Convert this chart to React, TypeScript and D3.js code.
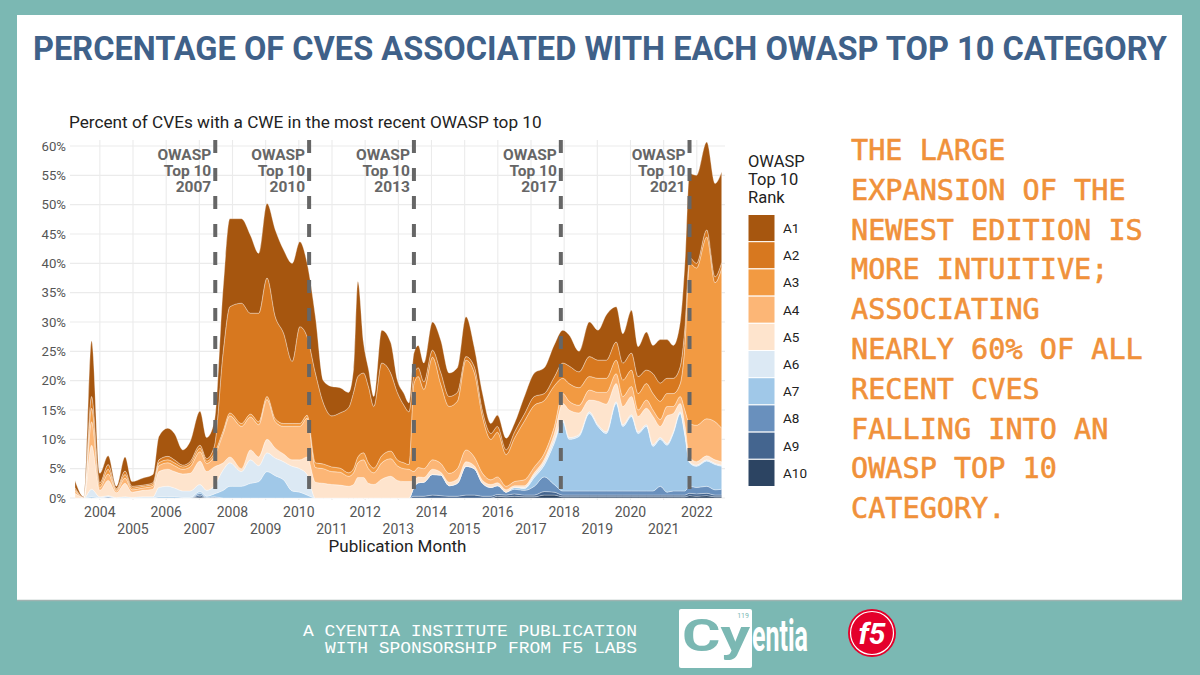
import React from "react";
import * as d3 from "d3";

// ---------- DATA ----------
const dates = [
  2003.25, 2003.52, 2003.75, 2004.0, 2004.25, 2004.5, 2004.76, 2004.97, 2005.3, 2005.6,
  2005.78, 2006.05, 2006.25, 2006.5, 2006.72, 2007.02, 2007.22, 2007.45, 2007.72, 2007.92,
  2008.27, 2008.54, 2008.79, 2009.04, 2009.29, 2009.54, 2009.8, 2010.03, 2010.25, 2010.5,
  2010.74, 2010.99, 2011.24, 2011.5, 2011.65, 2011.78, 2011.95, 2012.1, 2012.26, 2012.5,
  2012.77, 2012.97, 2013.17, 2013.32, 2013.47, 2013.6, 2013.77, 2014.03, 2014.28, 2014.53,
  2014.78, 2015.04, 2015.29, 2015.54, 2015.79, 2015.99, 2016.25, 2016.5, 2016.8, 2017.1,
  2017.4, 2017.7, 2017.96, 2018.15, 2018.45, 2018.76, 2019.02, 2019.27, 2019.57, 2019.77,
  2020.03, 2020.23, 2020.48, 2020.68, 2020.9, 2021.1, 2021.29, 2021.5, 2021.64, 2021.78,
  2021.99, 2022.3, 2022.55, 2022.75,
];

const A1 = [
  1.2, 0.1, 9.5, 1.6, 1.5, 0.4, 2.4, 0.8, 1.2, 1.4,
  4, 4.8, 4.5, 2.6, 3.4, 5.8, 3.6, 4.2, 11, 15,
  14.4, 13.3, 10.2, 12.7, 14.8, 14.2, 16.7, 14.5, 12.5, 9.6,
  3.8, 5, 4.3, 2.6, 4, 16.2, 5.2, 3, 1.7, 5.6,
  5.2, 2.1, 2, 1.5, 3.7, 3.8, 3.2, 4.8, 5.5, 4,
  4.2, 6.8, 3.3, 3, 1.7, 1.9, 2, 1.5, 3, 4,
  4.4, 5.5, 5.6, 5.3, 3.5, 5.9, 5.1, 7.7, 6, 5,
  7.3, 5.1, 6.5, 4.8, 7.4, 6.6, 5.6, 7.6, 11, 14.3,
  15, 15, 15.9, 15.4,
];
const A2 = [
  0.3, 0, 2, 0.4, 0.8, 0.2, 0.6, 0.3, 0.2, 0.3,
  0.5, 0.6, 0.5, 0.3, 0.4, 0.5, 0.4, 1.2, 13.5, 18.1,
  20.5, 17.2, 18.5, 20.2, 17.4, 15.4, 10.6, 16.5, 13.4, 15.3,
  10.4, 8.7, 9.4, 11.1, 13, 13.7, 13.6, 13, 10.5, 15.8,
  13.3, 11.5, 9.8, 9, 1.5, 1.5, 1.3, 1.2, 2, 1.7,
  1.5, 0.6, 1, 1, 1, 1, 0.8, 1, 1.2, 1.5,
  1.2, 1.5, 2.6, 3, 2.7, 3.4, 3.1, 3.1, 3.1, 2.9,
  2.9, 2.9, 2.3, 3.4, 3.1, 2.6, 2.6, 2.9, 3, 1,
  0.8, 1.2, 1, 1,
];
const A3 = [
  0.3, 0, 2.3, 0.4, 0.8, 0.2, 0.6, 0.3, 0.3, 0.3,
  0.5, 0.5, 0.5, 0.4, 0.5, 0.6, 0.4, 0.5, 0.5, 0.5,
  0.5, 0.5, 0.5, 0.5, 0.5, 0.5, 0.5, 0.5, 0.5, 0.8,
  0.8, 0.8, 0.7, 0.6, 0.7, 1, 1.2, 1, 0.8, 1.2,
  1.3, 1, 1, 0.8, 15, 15.5, 13.5, 17.5, 13.5, 11.4,
  11.5, 15.3, 14.4, 9.6, 6.9, 7.6, 5.4, 7.4, 10, 10.5,
  9, 7, 2.6, 3, 3, 2.3, 2.4, 2.4, 2.3, 2.8,
  2.8, 2.8, 2.8, 2.8, 3.1, 2.2, 2.2, 2.2, 11, 27.3,
  26.8, 31, 23.7, 27.3,
];
const A4 = [
  0.4, 0, 4, 0.5, 1.1, 0.3, 0.9, 0.4, 0.4, 0.5,
  1, 1.1, 1, 0.8, 1.1, 1.6, 1.4, 1.8, 5, 7,
  7.2, 5.6, 5.5, 6.8, 4.5, 4.7, 5.7, 5.7, 6.6, 2.5,
  2.5, 2.2, 2.2, 1.7, 2, 2.5, 3, 2.5, 2, 2.8,
  3, 2.5, 2.2, 2.1, 1.5, 1.6, 1.5, 1.6, 1.5, 1.5,
  1.8, 2, 1.5, 1.2, 0.8, 1, 0.6, 0.7, 1, 1,
  1, 1.2, 1.7, 1.5, 1.3, 1.7, 1.5, 2, 1.7, 1.7,
  1.7, 1.1, 1.4, 1.1, 1.2, 1.6, 1.2, 1.2, 2.5, 5.7,
  6.2, 6.3, 6.5, 5.7,
];
const A5 = [
  0.8, 0.1, 7.5, 1.1, 2.6, 0.8, 2.3, 0.9, 1.1, 1.3,
  2.7, 2.9, 2.8, 2.9, 3, 4, 3.2, 3.2, 1.2, 1,
  0.5, 1.7, 1.5, 2.3, 1.7, 1.3, 1.1, 1.5, 3, 2.7,
  2.5, 2.3, 2.2, 2, 2.3, 3.5, 3.5, 2.5, 2.3, 3.2,
  3.7, 3, 2.8, 2.8, 1.2, 1, 0.8, 0.9, 0.5, 0.6,
  0.7, 0.8, 0.5, 0.5, 0.5, 0.5, 0.4, 0.3, 0.3, 0.4,
  0.5, 1, 2.8, 4.7, 3.7, 2, 4, 4.7, 3.1, 3.1,
  3.1, 2.6, 2.8, 4.8, 1.9, 4.7, 3.1, 1.4, 1.5, 0.8,
  0.6, 0.7, 0.6, 0.6,
];
const A6 = [
  0, 0, 1.3, 0.2, 0.2, 0.1, 0.2, 0.1, 0.2, 0.2,
  1.6, 1.8, 1.5, 1.1, 1.1, 1.2, 1, 1.4, 3.5, 4,
  2.5, 4, 2.7, 3.2, 3, 3.1, 4.2, 4, 3.5, 0,
  0, 0, 0, 0, 0, 0, 0, 0, 0, 0,
  0, 0, 0, 0, 0, 0, 0, 0, 0, 0,
  0, 0, 0, 0, 0, 0, 0, 0, 0.2, 0.4,
  0.5, 0.6, 0.3, 0.3, 0.3, 0.3, 0.3, 0.3, 0.3, 0.3,
  0.3, 0.3, 0.3, 0.3, 0.3, 0.3, 0.3, 0.3, 0.3, 0.2,
  0.2, 0.2, 0.2, 0.2,
];
const A7 = [
  0, 0, 0.2, 0, 0, 0, 0, 0, 0, 0,
  0.2, 0.2, 0.2, 0.1, 0.1, 0.3, 0.2, 0.5, 1.3, 2,
  2, 2.5, 2.8, 4.5, 3.8, 3.1, 1.2, 1, 0.5, 0,
  0, 0, 0, 0, 0, 0, 0, 0, 0, 0,
  0, 0, 0, 0, 0, 0, 0, 0, 0, 0,
  0, 0, 0, 0, 0, 0, 0, 0.3, 0.3, 1.5,
  2, 7, 11.8, 8.8, 9.3, 13.2, 11, 9.8, 14.9, 11,
  12.7, 9.8, 11, 7.6, 8, 8, 9.8, 13.2, 9.5, 4,
  3.6, 4.3, 4.3, 3.9,
];
const A8 = [
  0, 0, 0, 0, 0.2, 0, 0, 0, 0, 0,
  0, 0, 0, 0, 0, 0.3, 0.1, 0.1, 0, 0,
  0, 0, 0, 0, 0, 0, 0, 0, 0, 0,
  0, 0, 0, 0, 0, 0, 0, 0, 0, 0,
  0, 0, 0, 0, 1.5, 2.3, 2.4, 3.5, 3.5, 1.8,
  2.2, 4.9, 4.5, 2.2, 1.5, 1.5, 0.5, 0.8, 0.8, 1.5,
  2.5, 1.3, 0.7, 0.7, 0.7, 0.7, 0.7, 0.7, 0.7, 0.7,
  0.7, 0.7, 0.7, 0.7, 1.5, 0.5, 0.7, 0.7, 0.7, 1.2,
  1.1, 1.2, 0.9, 1,
];
const A9 = [
  0, 0, 0, 0, 0, 0, 0, 0, 0, 0,
  0, 0, 0, 0, 0, 0.3, 0, 0.1, 0, 0,
  0, 0, 0, 0, 0, 0, 0, 0, 0, 0,
  0, 0, 0, 0, 0, 0, 0, 0, 0, 0,
  0, 0, 0, 0, 0.3, 0.3, 0.3, 0.5, 0.4, 0.3,
  0.3, 0.5, 0.5, 0.3, 0.3, 0.3, 0.3, 0.4, 0.3, 0.3,
  0.6, 0.5, 0.3, 0.3, 0.3, 0.3, 0.3, 0.3, 0.3, 0.3,
  0.3, 0.3, 0.3, 0.3, 0.3, 0.3, 0.3, 0.3, 0.3, 0.4,
  0.4, 0.4, 0.3, 0.3,
];
const A10 = [
  0, 0, 0, 0, 0, 0, 0, 0, 0, 0,
  0, 0, 0, 0, 0, 0.2, 0, 0, 0, 0,
  0, 0, 0, 0, 0, 0, 0, 0, 0, 0,
  0, 0, 0, 0, 0, 0, 0, 0, 0, 0,
  0, 0, 0, 0, 0, 0, 0, 0, 0, 0,
  0, 0, 0, 0, 0, 0.3, 0.2, 0.3, 0.2, 0.2,
  0.5, 0.5, 0.2, 0.2, 0.2, 0.2, 0.2, 0.2, 0.2, 0.2,
  0.2, 0.2, 0.2, 0.2, 0.2, 0.2, 0.2, 0.2, 0.2, 0.4,
  0.3, 0.4, 0.2, 0.2,
];

const categories = ["A1", "A2", "A3", "A4", "A5", "A6", "A7", "A8", "A9", "A10"];
const seriesValues = [A1, A2, A3, A4, A5, A6, A7, A8, A9, A10];
const palette = [
  "#a6560f", "#d7781f", "#f29a42", "#fcb676", "#fee4cd",
  "#dce9f4", "#a0c8e8", "#6990bd", "#44658f", "#2c4462",
];

const yTicks = [0, 5, 10, 15, 20, 25, 30, 35, 40, 45, 50, 55, 60];
const yearTicks = [
  2004, 2005, 2006, 2007, 2008, 2009, 2010, 2011, 2012, 2013,
  2014, 2015, 2016, 2017, 2018, 2019, 2020, 2021, 2022,
];
const editionDates = [2007.48, 2010.31, 2013.47, 2017.9, 2021.78];
const editionLabels = ["2007", "2010", "2013", "2017", "2021"];

const noteLines = [
  "THE LARGE",
  "EXPANSION OF THE",
  "NEWEST EDITION IS",
  "MORE INTUITIVE;",
  "ASSOCIATING",
  "NEARLY 60% OF ALL",
  "RECENT CVES",
  "FALLING INTO AN",
  "OWASP TOP 10",
  "CATEGORY.",
];

const titleText = "PERCENTAGE OF CVES ASSOCIATED WITH EACH OWASP TOP 10 CATEGORY";
const subtitleText = "Percent of CVEs with a CWE in the most recent OWASP top 10";
const footerLines = ["A CYENTIA INSTITUTE PUBLICATION", "WITH SPONSORSHIP FROM F5 LABS"];

// ---------- COMPONENT ----------
export default function App() {
  const W = 1200;
  const H = 675;
  const panel = { left: 70, right: 725, top: 140, bottom: 500 };

  const x = d3.scaleLinear().domain([2003.1, 2022.85]).range([panel.left, panel.right]);
  const y = d3.scaleLinear().domain([0, 60]).range([498, 146]);

  const rows = dates.map((d, i) => {
    const r: any = { date: d };
    categories.forEach((c, k) => (r[c] = seriesValues[k][i]));
    return r;
  });
  const stacked = d3.stack<any>().keys([...categories].reverse())(rows);
  const area = d3
    .area<any>()
    .x((d: any) => x(d.data.date))
    .y0((d: any) => y(d[0]))
    .y1((d: any) => y(d[1]))
    .curve(d3.curveMonotoneX);
  const colorOf = (k: string) => palette[categories.indexOf(k)];

  const teal = "#7bb8b3";
  const grey = "#555555";
  const sans = "Roboto, 'Noto Sans', sans-serif";
  const keyH = 27.2;

  return (
    <svg
      width={W}
      height={H}
      viewBox={`0 0 ${W} ${H}`}
      style={{ position: "absolute", left: 0, top: 0, display: "block" }}
    >
      <rect x={0} y={0} width={W} height={H} fill={teal} />
      <rect x={17} y={15} width={1165} height={585} fill="#ffffff" />
      <line x1={17} x2={1182} y1={600.5} y2={600.5} stroke="#9fb3b1" strokeWidth={1.5} />

      {/* Title */}
      <text
        x={33}
        y={60}
        fontFamily={sans}
        fontWeight={700}
        fontSize={33}
        fill="#3f6189"
        textLength={1134}
        lengthAdjust="spacingAndGlyphs"
      >
        {titleText}
      </text>

      {/* Subtitle */}
      <text x={69} y={128} fontFamily={sans} fontSize={17.2} fill="#222">
        {subtitleText}
      </text>

      {/* Grid */}
      <g>
        {yTicks.map((t) => (
          <line
            key={"gy" + t}
            x1={panel.left}
            x2={panel.right}
            y1={y(t)}
            y2={y(t)}
            stroke="#ebebeb"
            strokeWidth={1.1}
          />
        ))}
        {yearTicks.map((t) => (
          <line
            key={"gx" + t}
            x1={x(t)}
            x2={x(t)}
            y1={panel.top}
            y2={panel.bottom}
            stroke="#ebebeb"
            strokeWidth={1.1}
          />
        ))}
      </g>

      {/* Stacked areas */}
      <g>
        {stacked.map((s: any) => (
          <path
            key={s.key}
            d={area(s) || ""}
            fill={colorOf(s.key)}
            stroke="#ffffff"
            strokeOpacity={0.55}
            strokeWidth={0.6}
          />
        ))}
      </g>

      {/* Edition lines */}
      <g>
        {editionDates.map((d, i) => (
          <g key={"ed" + i}>
            <line
              x1={x(d)}
              x2={x(d)}
              y1={panel.top}
              y2={panel.bottom}
              stroke="#666666"
              strokeWidth={4}
              strokeDasharray="13 15"
            />
            <text
              textAnchor="end"
              fontFamily={sans}
              fontWeight={700}
              fontSize={15.5}
              fill="#666666"
            >
              <tspan x={x(d) - 4} y={160}>OWASP</tspan>
              <tspan x={x(d) - 4} y={176}>Top 10</tspan>
              <tspan x={x(d) - 4} y={192}>{editionLabels[i]}</tspan>
            </text>
          </g>
        ))}
      </g>

      {/* Y axis labels */}
      <g>
        {yTicks.map((t) => (
          <text
            key={"yl" + t}
            x={66}
            y={y(t) + 4.5}
            textAnchor="end"
            fontFamily={sans}
            fontSize={13.2}
            fill={grey}
          >
            {t + "%"}
          </text>
        ))}
      </g>

      {/* X axis labels (dodged rows) */}
      <g>
        {yearTicks.map((t, i) => (
          <text
            key={"xl" + t}
            x={x(t)}
            y={i % 2 === 0 ? 517 : 534}
            textAnchor="middle"
            fontFamily={sans}
            fontSize={14}
            fill={grey}
          >
            {t}
          </text>
        ))}
      </g>
      <text
        x={(panel.left + panel.right) / 2}
        y={552}
        textAnchor="middle"
        fontFamily={sans}
        fontSize={17}
        fill="#222"
      >
        Publication Month
      </text>

      {/* Legend */}
      <g fontFamily={sans} fill="#222">
        <text x={748} y={167} fontSize={16.5}>OWASP</text>
        <text x={748} y={185} fontSize={16.5}>Top 10</text>
        <text x={748} y={203} fontSize={16.5}>Rank</text>
        {categories.map((c, i) => (
          <g key={"lg" + c}>
            <rect
              x={748}
              y={214.5 + i * keyH}
              width={27}
              height={keyH}
              fill={palette[i]}
              stroke="#ffffff"
              strokeWidth={1}
            />
            <text x={783} y={214.5 + i * keyH + keyH / 2 + 4.8} fontSize={13.5}>
              {c}
            </text>
          </g>
        ))}
      </g>

      {/* Annotation */}
      <g
        fontFamily="'DejaVu Sans Mono', monospace"
        fontSize={28.5}
        fill="#f0913a"
        stroke="#f0913a"
        strokeWidth={0.6}
      >
        {noteLines.map((l, i) => (
          <text key={"n" + i} x={851} y={160 + i * 39.8} xmlSpace="preserve">
            {l}
          </text>
        ))}
      </g>

      {/* Footer */}
      <g fontFamily="'Liberation Mono', monospace" fontSize={16.5} fill="#ffffff">
        <text x={303} y={636} textLength={334} lengthAdjust="spacingAndGlyphs">
          {footerLines[0]}
        </text>
        <text x={325} y={653} textLength={312} lengthAdjust="spacingAndGlyphs">
          {footerLines[1]}
        </text>
      </g>

      {/* Cyentia logo */}
      <g>
        <rect x={679} y={609} width={73} height={59} rx={2} fill="#ffffff" />
        <text x={749} y={618} textAnchor="end" fontFamily={sans} fontSize={7} fill={teal}>
          119
        </text>
        <text
          x={682}
          y={651}
          fontFamily={sans}
          fontWeight={700}
          fontSize={44}
          fill={teal}
          textLength={68}
          lengthAdjust="spacingAndGlyphs"
        >
          Cy
        </text>
        <text
          x={752}
          y={651}
          fontFamily={sans}
          fontWeight={700}
          fontSize={44}
          fill="#ffffff"
          textLength={56}
          lengthAdjust="spacingAndGlyphs"
        >
          entia
        </text>
      </g>

      {/* F5 logo */}
      <g>
        <circle cx={872} cy={633} r={24} fill="#e4002b" />
        <circle cx={872} cy={633} r={21.5} fill="none" stroke="#ffffff" strokeWidth={1.2} />
        <text
          x={872}
          y={644}
          textAnchor="middle"
          fontFamily={sans}
          fontWeight={700}
          fontStyle="italic"
          fontSize={30}
          fill="#ffffff"
        >
          f5
        </text>
      </g>
    </svg>
  );
}
